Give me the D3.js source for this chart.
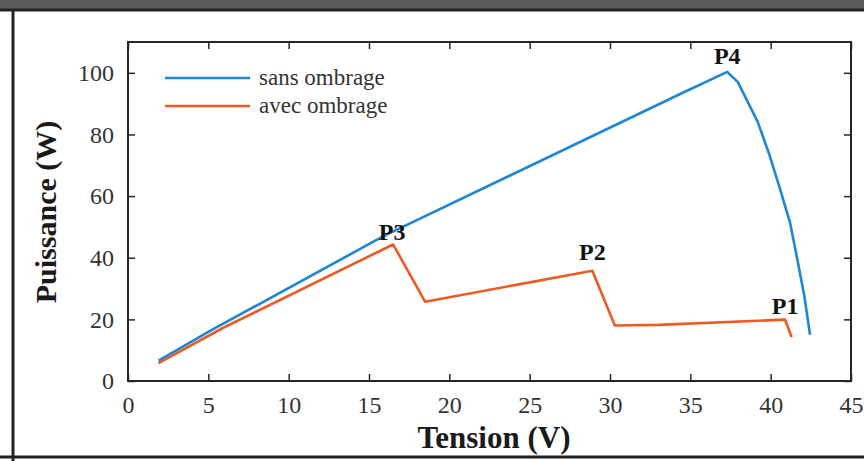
<!DOCTYPE html>
<html>
<head>
<meta charset="utf-8">
<script src="https://cdn.jsdelivr.net/npm/d3@7"></script>
<style>
  html, body { margin: 0; padding: 0; background: #ffffff; }
  svg { display: block; }
  text { font-family: "Liberation Serif", "DejaVu Serif", serif; }
</style>
</head>
<body>
<svg id="chart" width="864" height="461"></svg>
<script>
// P-V characteristic of the PV array, with and without partial shading
const sansTension   = [1.9, 5.3, 15.9, 34.4, 37.3, 37.96, 39.2, 39.95, 40.6, 41.2, 41.7, 42.1, 42.45];
const sansPuissance = [6.6, 16.8, 47.0, 93.2, 100.3, 97.0, 84.0, 73.0, 62.0, 51.5, 38.4, 27.4, 15.0];

const avecTension   = [1.9, 5.9, 16.5, 18.5, 28.9, 30.3, 33.0, 40.9, 41.3];
const avecPuissance = [5.8, 17.2, 44.3, 25.7, 35.8, 18.0, 18.2, 19.9, 14.3];

const xTicks = [0, 5, 10, 15, 20, 25, 30, 35, 40, 45];
const yTicks = [0, 20, 40, 60, 80, 100];

const seriesNames = ["sans ombrage", "avec ombrage"];
const seriesColors = ["#1f86d6", "#ee5a24"];

// Local maxima labelled on the curves
const peakNames   = ["P4", "P3", "P2", "P1"];
const peakTension = [37.3, 16.5, 28.9, 40.9];
const peakPuiss   = [100.3, 44.3, 35.8, 19.9];

const svg = d3.select("#chart");

// Outer frame of the figure
svg.append("rect").attr("x", 0).attr("y", 0).attr("width", 864).attr("height", 9).attr("fill", "#5a5a5a");
svg.append("line").attr("x1", 0).attr("x2", 864).attr("y1", 10).attr("y2", 10)
  .attr("stroke", "#222").attr("stroke-width", 3);
svg.append("line").attr("x1", 13).attr("x2", 13).attr("y1", 10).attr("y2", 461)
  .attr("stroke", "#222").attr("stroke-width", 3);
svg.append("line").attr("x1", 0).attr("x2", 864).attr("y1", 457).attr("y2", 457)
  .attr("stroke", "#222").attr("stroke-width", 3);

const plotLeft = 128, plotRight = 851, plotTop = 42, plotBottom = 381;

const x = d3.scaleLinear().domain([0, 45]).range([plotLeft, plotRight]);
const y = d3.scaleLinear().domain([0, 110]).range([plotBottom, plotTop]);

const g = svg.append("g");

// Axes with inward ticks on all four sides
const tickLen = 7;
function styleAxis(sel) {
  sel.select(".domain").remove();
  sel.selectAll(".tick line").attr("stroke", "#262626").attr("stroke-width", 1.5);
}
const axB = g.append("g").attr("transform", `translate(0,${plotBottom})`)
  .call(d3.axisBottom(x).tickValues(xTicks).tickSizeInner(-tickLen).tickSizeOuter(0).tickPadding(14));
styleAxis(axB);
axB.selectAll(".tick text").attr("font-size", 24).attr("fill", "#333")
  .attr("font-family", "Liberation Serif").attr("dy", "0.75em");

const axT = g.append("g").attr("transform", `translate(0,${plotTop})`)
  .call(d3.axisTop(x).tickValues(xTicks).tickSizeInner(-tickLen).tickSizeOuter(0).tickFormat(""));
styleAxis(axT);

const axL = g.append("g").attr("transform", `translate(${plotLeft},0)`)
  .call(d3.axisLeft(y).tickValues(yTicks).tickSizeInner(-tickLen).tickSizeOuter(0).tickPadding(14));
styleAxis(axL);
axL.selectAll(".tick text").attr("font-size", 24).attr("fill", "#333")
  .attr("font-family", "Liberation Serif");

const axR = g.append("g").attr("transform", `translate(${plotRight},0)`)
  .call(d3.axisRight(y).tickValues(yTicks).tickSizeInner(-tickLen).tickSizeOuter(0).tickFormat(""));
styleAxis(axR);

// Plot box
g.append("rect").attr("x", plotLeft).attr("y", plotTop)
  .attr("width", plotRight - plotLeft).attr("height", plotBottom - plotTop)
  .attr("fill", "none").attr("stroke", "#262626").attr("stroke-width", 2);

// Curves
const line = d3.line().x(d => x(d[0])).y(d => y(d[1]));
const sansData = sansTension.map((v, i) => [v, sansPuissance[i]]);
const avecData = avecTension.map((v, i) => [v, avecPuissance[i]]);

g.append("path").datum(sansData).attr("d", line)
  .attr("fill", "none").attr("stroke", seriesColors[0]).attr("stroke-width", 2.6)
  .attr("stroke-linejoin", "round");
g.append("path").datum(avecData).attr("d", line)
  .attr("fill", "none").attr("stroke", seriesColors[1]).attr("stroke-width", 2.6)
  .attr("stroke-linejoin", "round");

// Peak labels
const peakOffsets = [[0, -8], [-1, -4], [0, -11], [0, -6]];
peakNames.forEach((name, i) => {
  g.append("text")
    .attr("x", x(peakTension[i]) + peakOffsets[i][0])
    .attr("y", y(peakPuiss[i]) + peakOffsets[i][1])
    .attr("text-anchor", "middle")
    .attr("font-size", 24).attr("font-weight", "bold").attr("fill", "#111")
    .text(name);
});

// Legend
const legend = g.append("g");
seriesNames.forEach((name, i) => {
  const ly = 78 + i * 28;
  legend.append("line").attr("x1", 165).attr("x2", 250).attr("y1", ly).attr("y2", ly)
    .attr("stroke", seriesColors[i]).attr("stroke-width", 2.6);
  legend.append("text").attr("x", 259).attr("y", ly).attr("dy", "0.32em")
    .attr("font-size", 23).attr("fill", "#333").text(name);
});

// Axis titles
svg.append("text").attr("x", 494).attr("y", 448).attr("text-anchor", "middle")
  .attr("font-size", 31).attr("font-weight", "bold").attr("fill", "#1a1a1a")
  .text("Tension (V)");
svg.append("text").attr("transform", "translate(56,212) rotate(-90)")
  .attr("text-anchor", "middle")
  .attr("font-size", 30).attr("font-weight", "bold").attr("fill", "#1a1a1a")
  .text("Puissance (W)");
</script>
</body>
</html>
